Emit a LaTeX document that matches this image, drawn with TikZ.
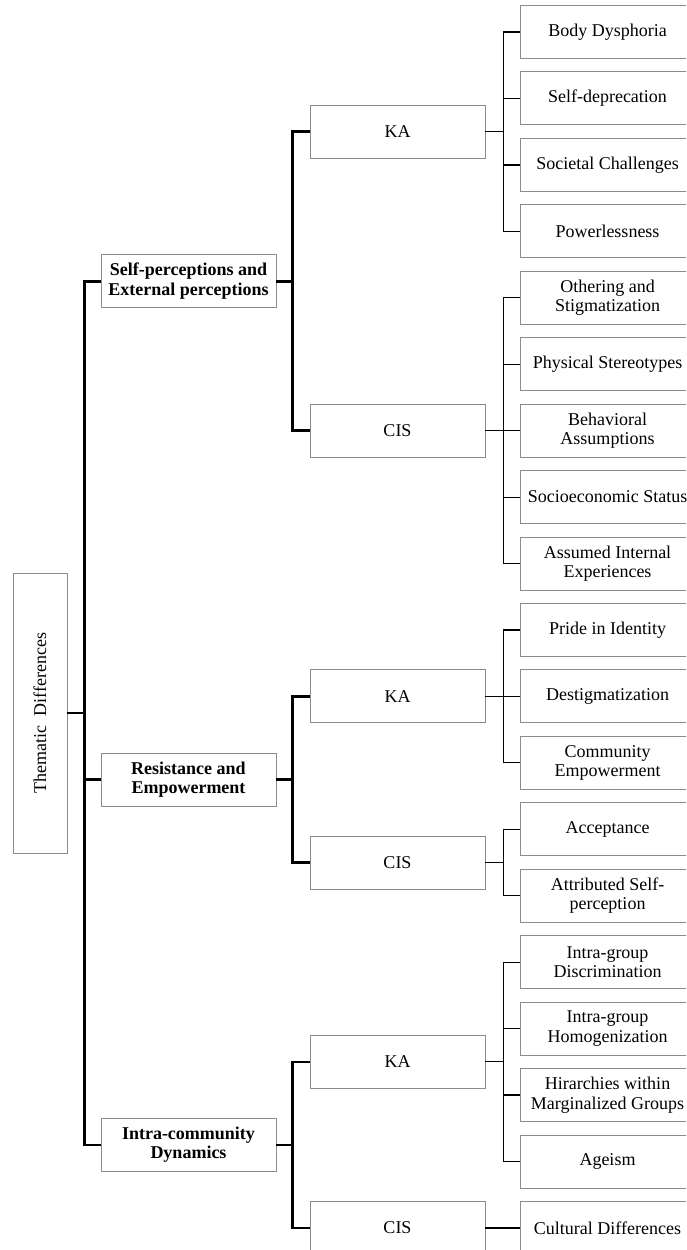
\documentclass[tikz,border=0pt]{standalone}
\usepackage{fontspec}
\setmainfont{Liberation Serif}

\begin{document}
\begin{tikzpicture}[x=1pt, y=-1pt,
  font=\fontsize{18}{19.5}\selectfont,
  box/.style={draw=black!45, line width=0.9pt, minimum width=175, minimum height=53, inner xsep=2pt, align=center},
  trunk/.style={draw, line width=2.6pt},
  twig/.style={draw, line width=1.2pt}]
\path[use as bounding box] (0,0) rectangle (686,1250);
\clip (0,0) rectangle (686,1250);

% root
\node[draw=black!45, line width=0.9pt, rotate=90, minimum width=280, minimum height=54] (root) at (40,713) {Thematic\ \ Differences};

% themes
\node[box, font=\fontsize{18}{19.5}\selectfont\bfseries] (t1) at (188.5,281.2) {Self-perceptions and\\External perceptions};
\node[box, font=\fontsize{18}{19.5}\selectfont\bfseries] (t2) at (188.5,779.5) {Resistance and\\Empowerment};
\node[box, font=\fontsize{18}{19.5}\selectfont\bfseries] (t3) at (188.5,1144.9) {Intra-community\\Dynamics};

% groups
\node[box] (ka1) at (397.5,131.7) {KA};
\node[box] (cis1) at (397.5,430.6) {CIS};
\node[box] (ka2) at (397.5,696.4) {KA};
\node[box] (cis2) at (397.5,862.5) {CIS};
\node[box] (ka3) at (397.5,1061.8) {KA};
\node[box] (cis3) at (397.5,1227.9) {CIS};

% leaves
\node[box] (l1) at (607.5,32) {Body Dysphoria};
\node[box] (l2) at (607.5,98.4) {Self-deprecation};
\node[box] (l3) at (607.5,164.9) {Societal Challenges};
\node[box] (l4) at (607.5,231.3) {Powerlessness};
\node[box] (l5) at (607.5,297.8) {Othering and\\Stigmatization};
\node[box] (l6) at (607.5,364.2) {Physical Stereotypes};
\node[box] (l7) at (607.5,430.6) {Behavioral\\Assumptions};
\node[box] (l8) at (607.5,497.1) {Socioeconomic Status};
\node[box] (l9) at (607.5,563.5) {Assumed Internal\\Experiences};
\node[box] (l10) at (607.5,630.0) {Pride in Identity};
\node[box] (l11) at (607.5,696.4) {Destigmatization};
\node[box] (l12) at (607.5,762.8) {Community\\Empowerment};
\node[box] (l13) at (607.5,829.3) {Acceptance};
\node[box] (l14) at (607.5,895.7) {Attributed Self-\\perception};
\node[box] (l15) at (607.5,962.2) {Intra-group\\Discrimination};
\node[box] (l16) at (607.5,1028.6) {Intra-group\\Homogenization};
\node[box] (l17) at (607.5,1095.0) {Hirarchies within\\Marginalized Groups};
\node[box] (l18) at (607.5,1161.5) {Ageism};
\node[box] (l19) at (607.5,1227.9) {Cultural Differences};

% root to themes
\path[trunk] (root.south) -- +(17,0) |- (t1.west);
\path[trunk] (root.south) -- +(17,0) |- (t2.west);
\path[trunk] (root.south) -- +(17,0) |- (t3.west);

% themes to groups
\path[trunk] (t1.east) -- +(16,0) |- (ka1.west);
\path[trunk] (t1.east) -- +(16,0) |- (cis1.west);
\path[trunk] (t2.east) -- +(16,0) |- (ka2.west);
\path[trunk] (t2.east) -- +(16,0) |- (cis2.west);
\path[trunk] (t3.east) -- +(16,0) |- (ka3.west);
\path[trunk] (t3.east) -- +(16,0) |- (cis3.west);

% groups to leaves
\path[twig] (ka1.east) -- +(18,0) |- (l1.west);
\path[twig] (ka1.east) -- +(18,0) |- (l2.west);
\path[twig] (ka1.east) -- +(18,0) |- (l3.west);
\path[twig] (ka1.east) -- +(18,0) |- (l4.west);
\path[twig] (cis1.east) -- +(18,0) |- (l5.west);
\path[twig] (cis1.east) -- +(18,0) |- (l6.west);
\path[twig] (cis1.east) -- +(18,0) |- (l7.west);
\path[twig] (cis1.east) -- +(18,0) |- (l8.west);
\path[twig] (cis1.east) -- +(18,0) |- (l9.west);
\path[twig] (ka2.east) -- +(18,0) |- (l10.west);
\path[twig] (ka2.east) -- +(18,0) |- (l11.west);
\path[twig] (ka2.east) -- +(18,0) |- (l12.west);
\path[twig] (cis2.east) -- +(18,0) |- (l13.west);
\path[twig] (cis2.east) -- +(18,0) |- (l14.west);
\path[twig] (ka3.east) -- +(18,0) |- (l15.west);
\path[twig] (ka3.east) -- +(18,0) |- (l16.west);
\path[twig] (ka3.east) -- +(18,0) |- (l17.west);
\path[twig] (ka3.east) -- +(18,0) |- (l18.west);
\path[twig] (cis3.east) -- (l19.west);
\end{tikzpicture}
\end{document}
